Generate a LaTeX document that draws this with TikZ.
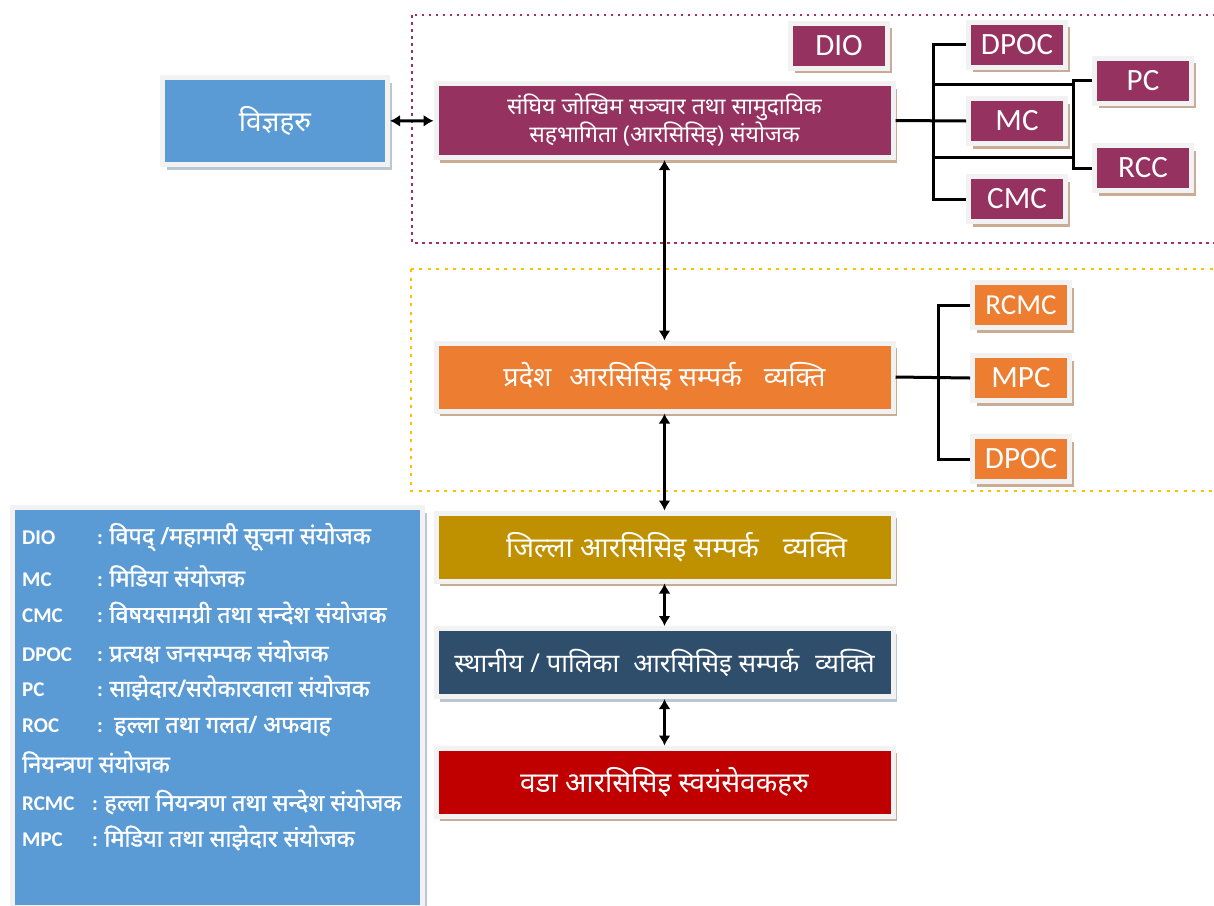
\documentclass[tikz,border=0pt]{standalone}
\usepackage{fontspec}
\setmainfont{Carlito}
\newfontfamily\devfont[Script=Devanagari]{Noto Sans}
\newfontfamily\devfontb[Script=Devanagari,FakeBold=1.2]{Noto Sans}
\usetikzlibrary{arrows.meta}
\usetikzlibrary{shadows}
\definecolor{ColFed}{RGB}{150,50,96}
\definecolor{ColProv}{RGB}{237,125,49}
\definecolor{ColExp}{RGB}{91,155,213}
\definecolor{ColDist}{RGB}{191,144,0}
\definecolor{ColLocal}{RGB}{46,78,107}
\definecolor{ColWard}{RGB}{192,0,0}
\definecolor{ColRim}{RGB}{242,242,242}
\definecolor{ColShadowA}{RGB}{200,172,150}
\definecolor{ColShadowB}{RGB}{186,198,212}
\definecolor{ColFrameA}{RGB}{165,45,100}
\definecolor{ColFrameB}{RGB}{255,192,0}
\newcommand{\Abbr}[2][75pt]{\makebox[#1][l]{#2}}
\newcommand{\Gap}[1]{\hspace{#1pt}}
\newcommand{\LegDev}{\devfontb\fontsize{23.5}{26}\selectfont}
\tikzstyle{BoxBase}=[rectangle,draw=ColRim,line width=5pt,text=white,inner sep=0pt,align=center]
\tikzstyle{ShadowA}=[general shadow={fill=ColShadowA,shadow xshift=4pt,shadow yshift=-5pt}]
\tikzstyle{ShadowB}=[general shadow={fill=ColShadowB,shadow xshift=4pt,shadow yshift=-5pt}]
\tikzstyle{Tag}=[BoxBase,ShadowA,minimum width=97pt,minimum height=45pt,font=\fontsize{31}{32}\selectfont]
\tikzstyle{Level}=[BoxBase,ShadowA,minimum width=457pt,minimum height=68pt,font=\devfont\fontsize{28}{32}\selectfont]
\tikzstyle{LegendLine}=[anchor=west,inner sep=0pt,text=white,font=\bfseries\fontsize{21}{24}\selectfont]
\tikzstyle{EdgeTree}=[black,line width=3pt]
\tikzstyle{EdgeLink}=[black,line width=3pt,{Latex[length=10pt,width=12pt]}-{Latex[length=10pt,width=12pt]}]
\tikzstyle{FrameFed}=[ColFrameA,line width=2.5pt,dash pattern=on 2.5pt off 4.5pt]
\tikzstyle{FrameProv}=[ColFrameB,line width=2.5pt,dash pattern=on 3pt off 5.5pt]

\begin{document}
\begin{tikzpicture}[x=1pt,y=-1pt]
\useasboundingbox (0,0) rectangle (1214,905);
% dotted groups
\draw[FrameFed](412,15)rectangle(1240,243);
\draw[FrameProv](411,269)rectangle(1240,491);
% experts and federal level
\node[BoxBase,ShadowB,fill=ColExp,minimum width=225pt,minimum height=87pt,
  font=\devfont\fontsize{28}{30}\selectfont](Exp)at(275,121){विज्ञहरु};
\node[Level,fill=ColFed,minimum height=74pt,font=\devfont\fontsize{23}{28}\selectfont](Fed)at(664.5,120.5)
  {संघिय जोखिम सञ्चार तथा सामुदायिक\\सहभागिता (आरसिसिइ) संयोजक};
\node[Tag,fill=ColFed](DIO)at(839,45.5){DIO};
\node[Tag,fill=ColFed](DPOCa)at(1017,44.5){DPOC};
\node[Tag,fill=ColFed](MC)at(1017,121){MC};
\node[Tag,fill=ColFed](CMC)at(1017,199){CMC};
\node[Tag,fill=ColFed](PC)at(1143,80.5){PC};
\node[Tag,fill=ColFed](RCC)at(1143,168){RCC};
% province level
\node[Level,fill=ColProv,font=\devfont\fontsize{27}{32}\selectfont](Prov)at(664.5,377)
  {प्रदेश\Gap{18}आरसिसिइ सम्पर्क\Gap{22}व्यक्ति};
\node[Tag,fill=ColProv,font=\fontsize{29}{30}\selectfont](RCMC)at(1021,305){RCMC};
\node[Tag,fill=ColProv](MPC)at(1021,378){MPC};
\node[Tag,fill=ColProv](DPOCb)at(1021,459){DPOC};
% lower levels
\node[Level,fill=ColDist](Dist)at(664.5,547){\hspace*{24pt}जिल्ला आरसिसिइ सम्पर्क\Gap{24}व्यक्ति};
\node[Level,ShadowB,fill=ColLocal,font=\devfont\fontsize{26}{30}\selectfont](Local)at(664.5,662.5)
  {स्थानीय / पालिका\Gap{14}आरसिसिइ सम्पर्क\Gap{16}व्यक्ति};
\node[Level,fill=ColWard](Ward)at(664.5,782){वडा आरसिसिइ स्वयंसेवकहरु};
% tree connectors
\coordinate(TrunkA)at(933,0);
\coordinate(TrunkB)at(1073,0);
\coordinate(TrunkC)at(938,0);
\coordinate(JoinA)at(933,84);
\coordinate(JoinB)at(933,157);
\draw[EdgeTree](DPOCa.west)--(DPOCa.west-|TrunkA)|-(CMC.west);
\draw[EdgeTree](Fed.east)--(MC.west);
\draw[EdgeTree](JoinA)--(JoinA-|TrunkB);
\draw[EdgeTree](JoinB)--(JoinB-|TrunkB);
\draw[EdgeTree](PC.west)--(PC.west-|TrunkB)|-(RCC.west);
\draw[EdgeTree](RCMC.west)--(RCMC.west-|TrunkC)|-(DPOCb.west);
\draw[EdgeTree](Prov.east)--(MPC.west);
% links between levels
\draw[EdgeLink](Exp)--(Fed);
\draw[EdgeLink](Fed)--(Prov);
\draw[EdgeLink](Prov)--(Dist);
\draw[EdgeLink](Dist)--(Local);
\draw[EdgeLink](Local)--(Ward);
% legend
\node[BoxBase,ShadowB,fill=ColExp,minimum width=410pt,minimum height=400pt](Legend)at(217.5,707.5){};
\node[LegendLine](L1)at(22,537){\Abbr{DIO}: \LegDev विपद्‌ /महामारी सूचना संयोजक};
\node[LegendLine](L2)at(22,576){\Abbr{MC}: \LegDev मिडिया संयोजक};
\node[LegendLine](L3)at(22,613){\Abbr{CMC}: \LegDev विषयसामग्री तथा सन्देश संयोजक};
\node[LegendLine](L4)at(22,652){\Abbr{DPOC}: \LegDev प्रत्यक्ष~जनसम्पक संयोजक};
\node[LegendLine](L5)at(22,688){\Abbr{PC}: \LegDev साझेदार/सरोकारवाला संयोजक};
\node[LegendLine](L6)at(22,726){\Abbr{ROC}: ~\LegDev हल्ला तथा गलत/ अफवाह};
\node[LegendLine](L7)at(22,762){\LegDev नियन्त्रण संयोजक};
\node[LegendLine](L8)at(22,802){\Abbr[70pt]{RCMC}: \LegDev हल्ला नियन्त्रण तथा सन्देश संयोजक};
\node[LegendLine](L9)at(22,838){\Abbr[70pt]{MPC}: \LegDev मिडिया तथा साझेदार संयोजक};
\end{tikzpicture}
\end{document}
